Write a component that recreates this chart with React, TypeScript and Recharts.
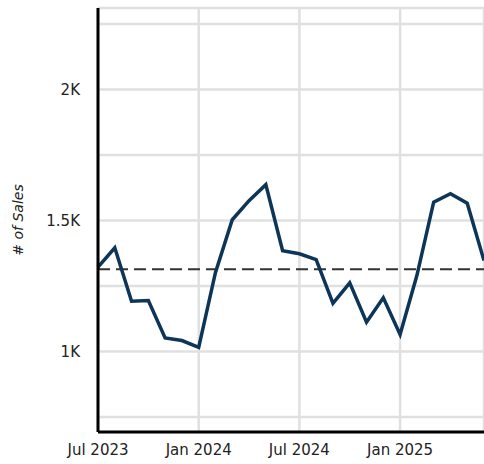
import React from 'react';
import { LineChart, Line, XAxis, YAxis, CartesianGrid, ReferenceLine } from 'recharts';

const months = [
  'Jul 2023', 'Aug 2023', 'Sep 2023', 'Oct 2023', 'Nov 2023', 'Dec 2023',
  'Jan 2024', 'Feb 2024', 'Mar 2024', 'Apr 2024', 'May 2024', 'Jun 2024',
  'Jul 2024', 'Aug 2024', 'Sep 2024', 'Oct 2024', 'Nov 2024', 'Dec 2024',
  'Jan 2025', 'Feb 2025', 'Mar 2025', 'Apr 2025', 'May 2025', 'Jun 2025',
];
const sales = [
  1322, 1396, 1192, 1195, 1052, 1042,
  1016, 1302, 1503, 1576, 1637, 1385,
  1373, 1351, 1184, 1262, 1112, 1205,
  1065, 1290, 1570, 1602, 1566, 1347,
];
const averageSales = 1314;
const xTickIndexes = [0, 6, 12, 18];
const yTicks = [750, 1000, 1250, 1500, 1750, 2000, 2250];
const yLabels: Record<number, string> = { 1000: '1K', 1500: '1.5K', 2000: '2K' };

const data = months.map((m, i) => ({ idx: i, month: m, sales: sales[i] }));

const FONT = '"DejaVu Sans", sans-serif';

export default function App() {
  return (
    <div style={{ position: 'absolute', left: 0, top: 0 }}>
      <LineChart width={484} height={464} data={data} margin={{ top: 8, right: 0, left: 0, bottom: 0 }}>
        <CartesianGrid stroke="#e0e0e0" strokeWidth={2.5} vertical={true} horizontal={true} />
        <XAxis
          dataKey="idx"
          type="number"
          domain={[0, 23]}
          ticks={xTickIndexes}
          tickFormatter={(v: number) => months[v]}
          height={32}
          tickLine={false}
          tickMargin={6}
          axisLine={{ stroke: '#000', strokeWidth: 3 }}
          tick={{ fill: '#222', fontSize: 15, fontFamily: FONT }}
        />
        <YAxis
          type="number"
          domain={[693, 2311]}
          ticks={yTicks}
          tickFormatter={(v: number) => yLabels[v] ?? ''}
          width={98}
          tickLine={false}
          tickMargin={12}
          axisLine={{ stroke: '#000', strokeWidth: 3 }}
          tick={{ fill: '#222', fontSize: 15, fontFamily: FONT }}
          label={{
            value: '# of Sales',
            angle: -90,
            position: 'insideLeft',
            offset: 18,
            style: { fill: '#222', fontSize: 14, fontFamily: FONT, fontStyle: 'italic', textAnchor: 'middle' },
          }}
        />
        <ReferenceLine y={averageSales} stroke="#333" strokeWidth={2} strokeDasharray="12 6" />
        <Line
          type="linear"
          dataKey="sales"
          stroke="#0d3558"
          strokeWidth={3.5}
          dot={false}
          isAnimationActive={false}
        />
      </LineChart>
    </div>
  );
}
